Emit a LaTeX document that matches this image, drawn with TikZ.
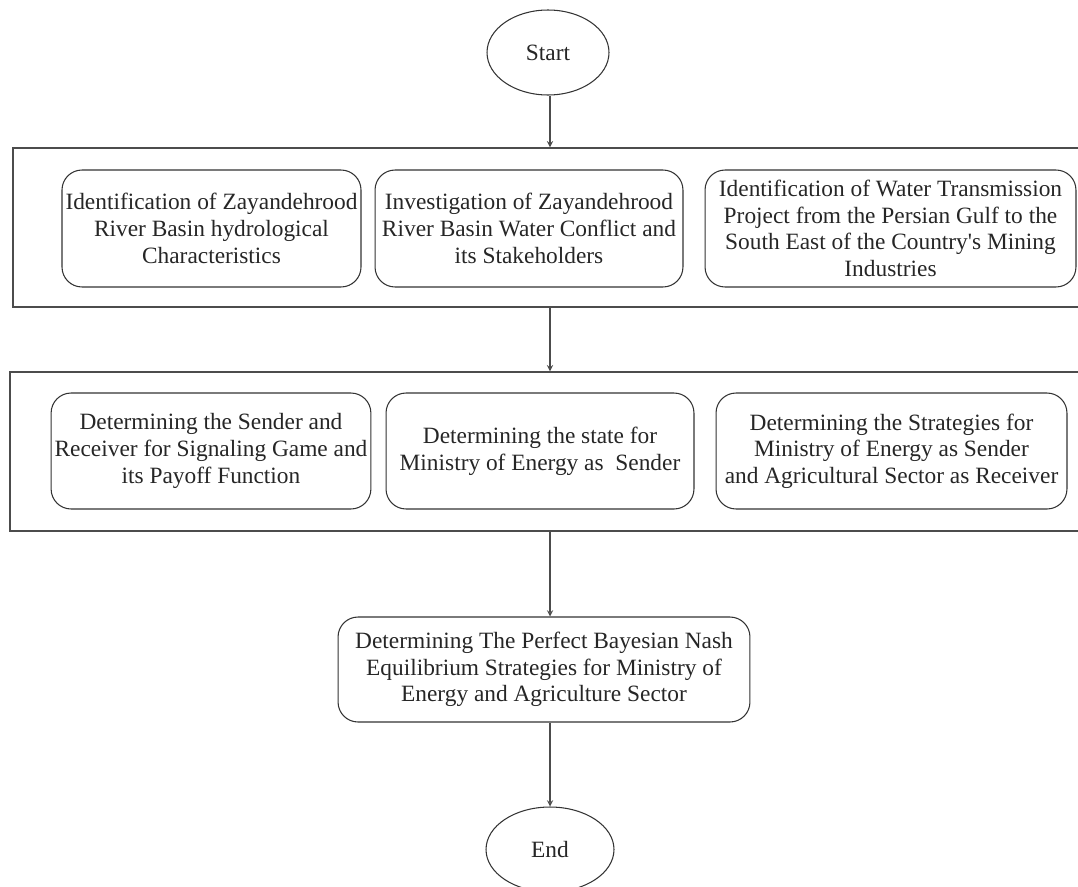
\documentclass[tikz,border=0pt]{standalone}
\usepackage{fontspec}
\newfontfamily\boxfont{Liberation Serif}
\usepackage{tikz}
\usetikzlibrary{shapes.geometric, arrows, positioning}
\tikzstyle{terminal} = [ellipse, minimum width=2.5cm, minimum height=1.7cm, text centered, draw=black!80, line width=0.6pt]
\tikzstyle{stage} = [rectangle, rounded corners=0.4cm, minimum height=2.34cm, align=center, draw=black!80, line width=0.6pt, inner sep=2pt]
\tikzstyle{group} = [rectangle, minimum height=3.18cm, draw=black!70, line width=0.8pt]
\tikzstyle{arrow} = [line width=0.6pt, draw=black!70, ->, >=stealth]

\begin{document}
\begin{tikzpicture}[x=0.02cm, y=-0.02cm, font=\boxfont\fontsize{13.3}{15.2}\selectfont, text=black!85]
        \clip (0,0) rectangle (1078,886);
        \node (start) [terminal, minimum width=2.44cm] at (548,52.5) {Start};

        \node (phase1) [group, minimum width=21.64cm] at (554,227.5) {};
        \node (basin) [stage, minimum width=5.94cm] at (211.5,228.5) {Identification of Zayandehrood\\River Basin hydrological\\Characteristics};
        \node (conflict) [stage, minimum width=6.16cm] at (529,228.5) {Investigation of Zayandehrood\\River Basin Water Conflict and\\its Stakeholders};
        \node (transfer) [stage, minimum width=7.42cm] at (890.5,228.5) {Identification of Water Transmission\\Project from the Persian Gulf to the\\South East of the Country's Mining\\Industries};

        \node (phase2) [group, minimum width=21.7cm] at (552.5,451.5) {};
        \node (players) [stage, minimum width=6.36cm, minimum height=2.32cm] at (211,451) {Determining the Sender and\\Receiver for Signaling Game and\\its Payoff Function};
        \node (state) [stage, minimum width=6.16cm, minimum height=2.32cm] at (540,451) {Determining the state for\\Ministry of Energy as\ \ Sender};
        \node (strategies) [stage, minimum width=7.02cm, minimum height=2.32cm] at (891.5,451) {Determining the Strategies for\\Ministry of Energy as Sender\\and Agricultural Sector as Receiver};

        \node (equilibrium) [stage, minimum width=8.24cm, minimum height=2.1cm] at (544,669.5) {Determining The Perfect Bayesian Nash\\Equilibrium Strategies for Ministry of\\Energy and Agriculture Sector};
        \node (end) [terminal, minimum width=2.56cm] at (550,849.5) {End};

        \draw [arrow] (start.south -| end.north) -- (end.north |- phase1.north);
        \draw [arrow] (end.north |- phase1.south) -- (end.north |- phase2.north);
        \draw [arrow] (end.north |- phase2.south) -- (end.north |- equilibrium.north);
        \draw [arrow] (end.north |- equilibrium.south) -- (end.north);

        \end{tikzpicture}
\end{document}
